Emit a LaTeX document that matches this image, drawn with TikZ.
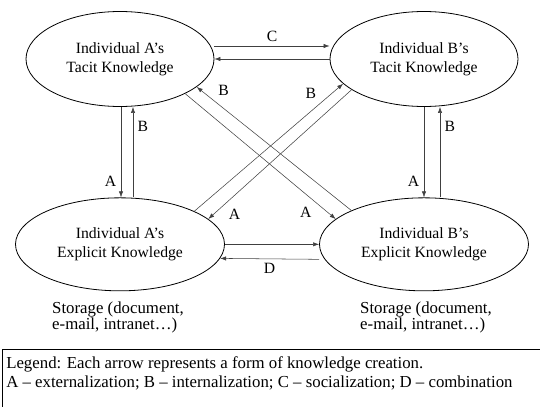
\documentclass[tikz,border=0pt]{standalone}
\usepackage{fontspec}
\setmainfont{Liberation Serif}
\usetikzlibrary{shapes.geometric,arrows.meta,positioning}

\begin{document}
\begin{tikzpicture}[x=0.75pt,y=-0.75pt,node distance=228pt,
  >={Latex[length=4.5pt,width=3.2pt]},
  know node/.style={ellipse,draw,line width=0.6pt,inner sep=0pt,minimum width=141pt,minimum height=71.25pt,align=center,font=\fontsize{11.75}{14.25}\selectfont},
  wide node/.style={know node,minimum width=156.75pt,minimum height=69.75pt},
  store node/.style={align=left,inner sep=0pt,font=\fontsize{12.6}{12.2}\selectfont},
  legend node/.style={align=left,inner sep=0pt,anchor=north west,font=\fontsize{12.6}{14.6}\selectfont}]
  \useasboundingbox (0,0) rectangle (540,407);

  \node[know node] (1) at (120,59) {Individual A’s\\Tacit Knowledge};
  \node[know node] (2) [right of=1] {Individual B’s\\Tacit Knowledge};
  \node[wide node] (3) [node distance=139pt,below of=1] {Individual A’s\\Explicit Knowledge};
  \node[wide node] (4) [node distance=139pt,below of=2] {Individual B’s\\Explicit Knowledge};

  \node[store node] (5) [node distance=55pt,below of=3,xshift=-1.5pt] {Storage (document,\\e-mail, intranet…)};
  \node[store node] (6) [node distance=55pt,below of=4,xshift=1.5pt] {Storage (document,\\e-mail, intranet…)};

  \node[legend node] (7) at (6,356) {Legend: Each arrow represents a form of knowledge creation.\\A – externalization; B – internalization; C – socialization; D – combination};
  \draw[line width=0.6pt] (2,349) rectangle (560,420);

  \path[->,color=black!75,line width=0.4pt,every node/.style={font=\fontsize{11.75}{14}\selectfont,color=black}]
    ([xshift=0.75pt]1.south) edge node [pos=0.82,left] {A} ([xshift=0.75pt]3.north)
    ([xshift=9.75pt]3.north) edge node [pos=0.79,right] {B} ([xshift=9.75pt]1.south)
    (2.south) edge node [pos=0.82,left] {A} (4.north)
    ([xshift=12pt]4.north) edge node [pos=0.79,right] {B} ([xshift=12pt]2.south)
    ([yshift=9.75pt]1.east) edge node [above] {C} ([yshift=9.75pt]2.west)
    (2.west) edge (1.east)
    (3.east) edge (4.west)
    ([yshift=-11.25pt]4.west) edge node [below] {D} (3.-8.6);

  \path[->,color=black!75,line width=0.4pt,every node/.style={font=\fontsize{11.75}{14}\selectfont,color=black}]
    (4.155) edge node [pos=0.89,above right] {B} (1.-20)
    (1.-28) edge node [pos=0.87,below left] {A} (4.164)
    (3.24) edge node [pos=0.85,above left] {B} (2.197)
    (2.203) edge node [pos=0.89,below right] {A} (3.16);
\end{tikzpicture}
\end{document}
